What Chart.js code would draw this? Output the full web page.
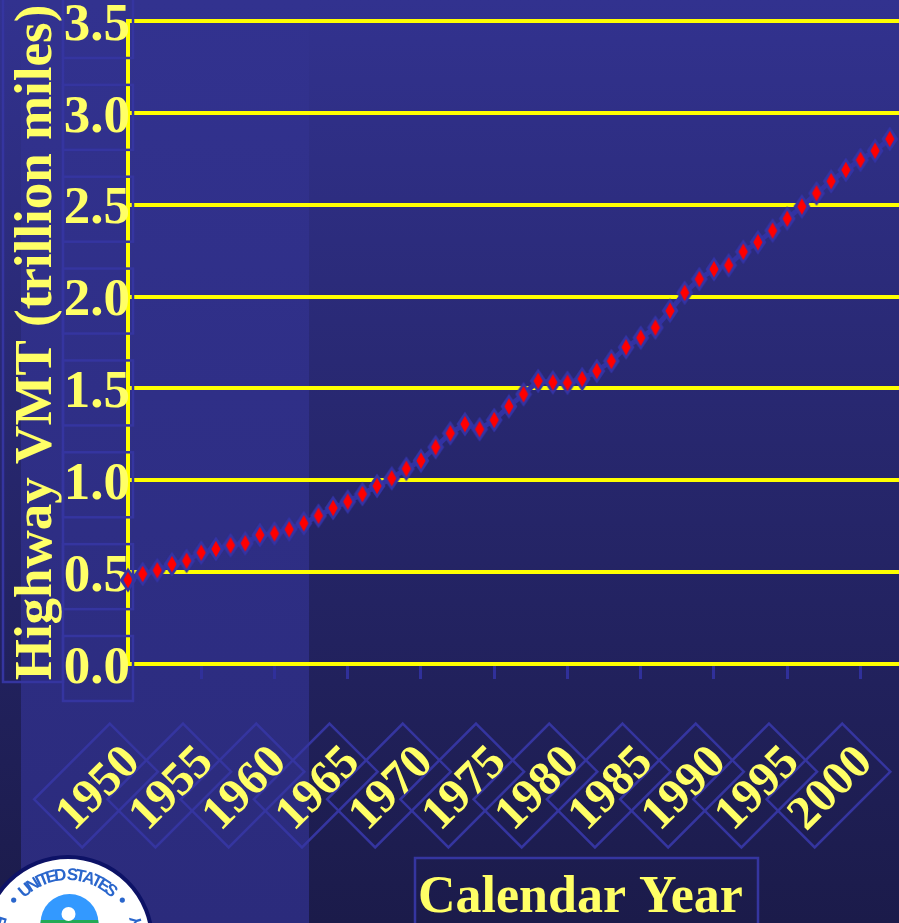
<!DOCTYPE html>
<html><head><meta charset="utf-8">
<script src="https://cdn.jsdelivr.net/npm/chart.js@4.4.0/dist/chart.umd.min.js"></script>
<style>html,body{margin:0;padding:0;background:#1b1b4b;overflow:hidden}canvas{display:block}</style>
</head><body>
<canvas id="c" width="899" height="923"></canvas>
<script>
// ---- data ----
const years = [1950,1951,1952,1953,1954,1955,1956,1957,1958,1959,
               1960,1961,1962,1963,1964,1965,1966,1967,1968,1969,
               1970,1971,1972,1973,1974,1975,1976,1977,1978,1979,
               1980,1981,1982,1983,1984,1985,1986,1987,1988,1989,
               1990,1991,1992,1993,1994,1995,1996,1997,1998,1999,
               2000,2001,2002];
const vmt = [0.457,0.490,0.510,0.543,0.562,0.606,0.626,0.646,0.657,0.702,
             0.711,0.733,0.766,0.807,0.849,0.884,0.925,0.969,1.011,1.063,
             1.107,1.180,1.256,1.306,1.278,1.328,1.402,1.468,1.541,1.533,
             1.531,1.551,1.595,1.649,1.724,1.776,1.831,1.923,2.021,2.095,
             2.149,2.170,2.244,2.296,2.359,2.424,2.490,2.562,2.628,2.689,
             2.744,2.794,2.858];
const xTicks = [1950,1955,1960,1965,1970,1975,1980,1985,1990,1995,2000];
const yTicks = [0.0,0.5,1.0,1.5,2.0,2.5,3.0,3.5];
const yTitle = 'Highway VMT (trillion miles)';
const xTitle = 'Calendar Year';
const xMin = 1950, xMax = 2002.63, yMin = 0, yMax = 3.5;

// ---- styles ----
const SERIF = "'Liberation Serif','Times New Roman',serif";
const TXT = '#ffff66';
const YEL = '#ffff00';
const BOX = '#3535a0';

function diamondCanvas(){
  const c = document.createElement('canvas');
  c.width = 18; c.height = 26;
  const g = c.getContext('2d');
  const d = (cx,cy,hw,hh)=>{g.beginPath();g.moveTo(cx,cy-hh);g.lineTo(cx+hw,cy);g.lineTo(cx,cy+hh);g.lineTo(cx-hw,cy);g.closePath();};
  g.fillStyle = '#3434a4'; d(9,13,8.5,12.5); g.fill();
  g.fillStyle = '#ff0000'; d(9,13,4.6,8.2); g.fill();
  return c;
}

function arcText(ctx, text, cx, cy, r, a0, a1, top){
  const ws = [...text].map(ch=>ctx.measureText(ch).width);
  const total = ws.reduce((a,b)=>a+b,0);
  let cum = 0;
  [...text].forEach((ch,i)=>{
    const t = (cum + ws[i]/2)/total;
    const a = (a0 + (a1-a0)*t) * Math.PI/180;
    ctx.save();
    ctx.translate(cx + r*Math.cos(a), cy + r*Math.sin(a));
    ctx.rotate(top ? a + Math.PI/2 : a - Math.PI/2);
    ctx.fillText(ch, 0, 0);
    ctx.restore();
    cum += ws[i];
  });
}

function drawSeal(ctx){
  const cx = 68, cy = 941, R = 84;
  ctx.save();
  ctx.beginPath(); ctx.arc(cx,cy,R,0,Math.PI*2);
  ctx.fillStyle = '#ffffff'; ctx.fill();
  ctx.lineWidth = 4; ctx.strokeStyle = '#0d1266'; ctx.stroke();
  ctx.save();
  ctx.beginPath(); ctx.arc(69.5,923,29,0,Math.PI*2); ctx.clip();
  ctx.fillStyle = '#3399ff'; ctx.fillRect(38,890,64,40);
  ctx.fillStyle = '#22aa55'; ctx.fillRect(38,920,64,10);
  ctx.restore();
  ctx.beginPath(); ctx.arc(68.5,914,7,0,Math.PI*2); ctx.fillStyle='#ffffff'; ctx.fill();
  ctx.fillStyle = '#2a66cc';
  ctx.textAlign = 'center'; ctx.textBaseline = 'alphabetic';
  ctx.font = "bold 17px 'Liberation Sans',Arial,sans-serif";
  arcText(ctx, 'UNITED STATES', cx, cy, 61, -134, -46, true);
  ctx.font = "bold 16px 'Liberation Sans',Arial,sans-serif";
  arcText(ctx, 'ENVIRONMENTAL PROTECTION AGENCY', cx, cy, 76, 200, -20, false);
  [-143,-37].forEach(d=>{const a=d*Math.PI/180;ctx.beginPath();ctx.arc(cx+68*Math.cos(a),cy+68*Math.sin(a),2.6,0,Math.PI*2);ctx.fill();});
  ctx.restore();
}

const decor = {
  id: 'decor',
  beforeDraw(chart){
    const {ctx, width, height} = chart;
    ctx.save();
    let g = ctx.createLinearGradient(0,0,0,height);
    g.addColorStop(0,'#32328f'); g.addColorStop(1,'#1b1b4a');
    ctx.fillStyle = g; ctx.fillRect(0,0,width,height);
    g = ctx.createLinearGradient(0,0,0,height);
    g.addColorStop(0,'#32328f'); g.addColorStop(1,'#2b2b7c');
    ctx.fillStyle = g; ctx.fillRect(21,0,288,height);
    // rotated label boxes
    const xs = chart.scales.x;
    ctx.strokeStyle = BOX; ctx.lineWidth = 2.5;
    const u = [Math.SQRT1_2,-Math.SQRT1_2], v = [Math.SQRT1_2,Math.SQRT1_2];
    const hw = 53.5, hh = 34;
    xTicks.forEach(t=>{
      const p = xs.getPixelForValue(t);
      const c = [p-32, 785.5];
      const pts = [[hw,-hh],[hw,hh],[-hw,hh],[-hw,-hh]].map(([a,b])=>[c[0]+a*u[0]+b*v[0], c[1]+a*u[1]+b*v[1]]);
      ctx.beginPath(); pts.forEach((q,i)=> i?ctx.lineTo(q[0],q[1]):ctx.moveTo(q[0],q[1])); ctx.closePath(); ctx.stroke();
    });
    ctx.restore();
  },
  afterDraw(chart){
    const {ctx} = chart;
    const ys = chart.scales.y;
    ctx.save();
    ctx.strokeStyle = BOX; ctx.lineWidth = 2.5;
    yTicks.forEach(t=>{
      const p = ys.getPixelForValue(t);
      ctx.strokeRect(63, p + 4.5 - 32.5, 70, 65);
    });
    ctx.strokeRect(3, -5, 60, 687);
    ctx.strokeRect(415, 858, 343, 90);
    ctx.fillStyle = TXT;
    ctx.font = 'bold 52px ' + SERIF;
    ctx.textAlign = 'left'; ctx.textBaseline = 'alphabetic';
    ctx.fillText(xTitle, 418, 912);
    ctx.restore();
    drawSeal(ctx);
  }
};

new Chart(document.getElementById('c'), {
  type: 'line',
  data: {
    datasets: [{
      data: years.map((y,i)=>({x:y, y:vmt[i]})),
      borderColor: '#3232a2',
      borderWidth: 5,
      pointStyle: diamondCanvas(),
      pointRadius: 8,
      pointHoverRadius: 8,
      clip: false,
      tension: 0
    }]
  },
  options: {
    responsive: false,
    animation: false,
    devicePixelRatio: 1,
    layout: {autoPadding: false, padding: {top: 21, left: 0, right: 0, bottom: 0}},
    plugins: {legend: {display: false}, tooltip: {enabled: false}},
    scales: {
      x: {
        type: 'linear', min: xMin, max: xMax,
        afterBuildTicks: s => { s.ticks = xTicks.map(v=>({value:v})); },
        afterFit: s => { s.height = 259; s.paddingLeft = 0; s.paddingRight = 0; },
        grid: {display: true, drawOnChartArea: false, drawTicks: true, tickLength: 15, color: '#30309a', lineWidth: 3},
        border: {display: true, color: YEL, width: 4},
        ticks: {
          autoSkip: false, minRotation: 45, maxRotation: 45, includeBounds: false,
          padding: 56, labelOffset: 5,
          color: TXT, font: {family: SERIF, size: 48, weight: 'bold', lineHeight: 1.2},
          callback: v => String(v)
        }
      },
      y: {
        type: 'linear', min: yMin, max: yMax,
        afterBuildTicks: s => { s.ticks = yTicks.map(v=>({value:v})); },
        afterFit: s => { s.width = 128; s.paddingTop = 0; s.paddingBottom = 0; },
        grid: {color: YEL, lineWidth: 4, drawTicks: false},
        border: {display: true, color: YEL, width: 4},
        ticks: {
          padding: -2, labelOffset: 5,
          color: TXT, font: {family: SERIF, size: 53, weight: 'bold', lineHeight: 1.2},
          callback: v => Number(v).toFixed(1)
        },
        title: {
          display: true, text: yTitle, color: TXT,
          font: {family: SERIF, size: 53, weight: 'bold', lineHeight: 1.2},
          padding: {top: 6, bottom: 0}
        }
      }
    }
  },
  plugins: [decor]
});
</script>
</body></html>
